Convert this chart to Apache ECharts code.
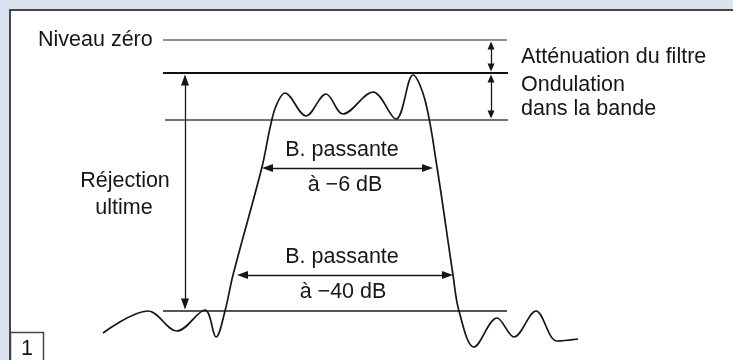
<!DOCTYPE html>
<html>
<head>
<meta charset="utf-8">
<script src="https://cdn.jsdelivr.net/npm/echarts@6/dist/echarts.min.js"></script>
<style>
    html, body { margin: 0; padding: 0; background: #dbe3f0; }
    #chart { width: 733px; height: 360px; }
</style>
</head>
<body>
<div id="chart"></div>
<script>
// filter response sketch: x = relative frequency, y = attenuation (down is more)
const curveFreq = [18.6, 27.6, 33.4, 39.0, 41.2, 43.0, 44.6, 50.4, 52.0, 53.2, 55.0, 59.2, 63.2, 66.6, 72.6, 77.2, 80.6, 83.0, 85.4, 88.6, 89.8, 92.8, 97.4, 100.8, 105.2, 109.4, 113.6];
const curveLevel = [58.6, 54.2, 58.2, 54.0, 59.4, 54.2, 47.0, 25.4, 17.6, 13.2, 10.6, 15.2, 10.8, 14.8, 10.4, 15.8, 7.0, 12.0, 25.4, 47.0, 54.2, 61.4, 55.6, 59.4, 54.2, 60.2, 59.8];

// horizontal reference levels: zero, filter loss, ripple floor, ultimate rejection
const refLevels = [0, 6.6, 16, 54.2];
const refStart = [30.6, 30.6, 31, 30.6];
const refEnd = [99.4, 99.6, 99.6, 99.4];

// double arrows [x1, y1, x2, y2]
const bigArrows = [
    [35, 8, 35, 52.8],          // rejection ultime
    [51.5, 25.6, 83.5, 25.6],   // -6 dB
    [46.5, 47, 87.5, 47]        // -40 dB
];
const smallArrows = [
    [96.2, 1.1, 96.2, 5.5],     // attenuation
    [96.2, 7.7, 96.2, 14.9]     // ripple
];

const ink = "#161616";
const font = "21.5px 'Liberation Sans', Arial, sans-serif";

var myChart = echarts.init(document.getElementById("chart"));

var refStyle = [
    { width: 1.1, color: "#222" },
    { width: 2, color: "#111" },
    { width: 1.5, color: "#444" },
    { width: 2, color: "#555" },
];

var series = [];
refLevels.forEach(function (lvl, i) {
    series.push({
        type: "line",
        silent: true,
        showSymbol: false,
        data: [[refStart[i], lvl], [refEnd[i], lvl]],
        lineStyle: refStyle[i],
        z: 2,
    });
});

series.push({
    type: "line",
    silent: true,
    showSymbol: false,
    smooth: 0.35,
    data: curveFreq.map((f, i) => [f, curveLevel[i]]),
    lineStyle: { width: 1.7, color: ink },
    z: 3,
});

function arrowSeries(list, size, width) {
    return {
        type: "line",
        data: [],
        markLine: {
            silent: true,
            symbol: ["triangle", "triangle"],
            symbolSize: size,
            label: { show: false },
            lineStyle: { type: "solid", color: ink, width: width },
            itemStyle: { color: ink },
            data: list.map((a) => [{ coord: [a[0], a[1]] }, { coord: [a[2], a[3]] }]),
        },
    };
}
series.push(arrowSeries(bigArrows, [8, 11], 1.3));
series.push(arrowSeries(smallArrows, [7, 8], 1.3));

function txt(text, x, y, align) {
    return {
        type: "text",
        x: x,
        y: y,
        silent: true,
        style: {
            text: text,
            font: font,
            fill: ink,
            align: align || "left",
            verticalAlign: "middle",
        },
    };
}

var option = {
    animation: false,
    backgroundColor: "#dbe3f0",
    grid: {
        show: true,
        left: 10,
        top: 10,
        right: 0,
        bottom: 0,
        backgroundColor: "#ffffff",
        borderWidth: 0,
    },
    xAxis: { type: "value", min: 0, max: 144.6, show: false },
    yAxis: { type: "value", min: -6, max: 64, inverse: true, show: false },
    series: series,
    graphic: [
        // panel frame, top and left edges only
        {
            type: "polyline",
            silent: true,
            shape: { points: [[10, 360], [10, 10], [733, 10]] },
            style: { stroke: "#474747", lineWidth: 2, fill: null },
        },
        txt("Niveau zéro", 38, 40),
        txt("Atténuation du filtre", 521, 57),
        txt("Ondulation", 521, 85.5),
        txt("dans la bande", 521, 109.5),
        txt("Réjection", 125, 181, "center"),
        txt("ultime", 124, 208, "center"),
        txt("B. passante", 342, 150, "center"),
        txt("à −6 dB", 345, 185, "center"),
        txt("B. passante", 342, 257, "center"),
        txt("à −40 dB", 343, 292, "center"),
        {
            type: "rect",
            silent: true,
            shape: { x: 10.5, y: 332.5, width: 33, height: 30 },
            style: { fill: "#fff", stroke: "#444", lineWidth: 1.5 },
        },
        txt("1", 27, 349, "center"),
    ],
};
myChart.setOption(option);
</script>
</body>
</html>
